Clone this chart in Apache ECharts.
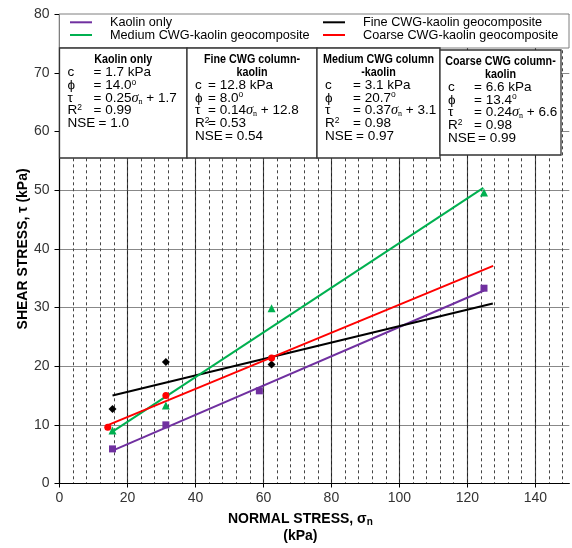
<!DOCTYPE html>
<html><head><meta charset="utf-8">
<script src="https://cdn.jsdelivr.net/npm/echarts@6/dist/echarts.min.js"></script>
<style>html,body{margin:0;padding:0;background:#fff}#c{width:572px;height:548px}</style>
</head><body><div id="c"></div>
<script>
// ---- data ----
const seriesNames = ['Kaolin only', 'Fine CWG-kaolin geocomposite', 'Medium CWG-kaolin geocomposite', 'Coarse CWG-kaolin geocomposite'];
const colors = ['#7030A0', '#000000', '#00B050', '#FF0000'];
const symbols = ['rect', 'diamond', 'triangle', 'circle'];

const kaolinX = [15.6, 31.3, 58.8, 124.9];
const kaolinY = [5.9, 10.0, 15.8, 33.3];
const fineX = [15.6, 31.3, 62.4];
const fineY = [12.7, 20.7, 20.3];
const mediumX = [15.6, 31.3, 62.4, 124.9];
const mediumY = [9.05, 13.3, 29.9, 49.6];
const coarseX = [14.2, 31.3, 62.4];
const coarseY = [9.6, 15.0, 21.4];

// fitted trend lines (start / end)
const kaolinLineX = [15.6, 124.9], kaolinLineY = [5.6, 32.9];
const fineLineX = [15.6, 127.5], fineLineY = [15.0, 30.7];
const mediumLineX = [15.5, 124.7], mediumLineY = [8.8, 50.4];
const coarseLineX = [14.4, 127.6], coarseLineY = [10.0, 37.1];

// fit summary boxes
const boxTitles = [['Kaolin only'], ['Fine CWG column-', 'kaolin'], ['Medium CWG column', '-kaolin'], ['Coarse CWG column-', 'kaolin']];
const cValues = ['1.7', '12.8', '3.1', '6.6'];
const phiValues = ['14.0', '8.0', '20.7', '13.4'];
const slopes = ['0.25', '0.14', '0.37', '0.24'];
const intercepts = ['1.7', '12.8', '3.1', '6.6'];
const r2Values = ['0.99', '0.53', '0.98', '0.98'];
const nseValues = ['1.0', '0.54', '0.97', '0.99'];

const xTicks = [0, 20, 40, 60, 80, 100, 120, 140];
const yTicks = [0, 10, 20, 30, 40, 50, 60, 70, 80];

// ---- layout ----
const FONT = '"Liberation Sans", Arial, sans-serif';
const grid = {left: 59.5, right: 2.7, top: 14.3, bottom: 62.3};
const boxX = [59.5, 187, 317, 440];
const boxW = [127.5, 130, 123, 121];
const boxTop = [48, 48, 48, 50];
const boxH = [110, 110, 110, 105];
const eqOff = [34, 21, 36, 34];
const nseEqOff = [39, 38, 39, 38];

const pts = (xs, ys) => xs.map((x, i) => [x, ys[i]]);
const scatterData = [pts(kaolinX, kaolinY), pts(fineX, fineY), pts(mediumX, mediumY), pts(coarseX, coarseY)];
const lineData = [pts(kaolinLineX, kaolinLineY), pts(fineLineX, fineLineY), pts(mediumLineX, mediumLineY), pts(coarseLineX, coarseLineY)];

const series = [];
lineData.forEach((d, i) => {
  series.push({name: seriesNames[i], type: 'line', data: d, symbol: 'none', silent: true,
    lineStyle: {color: colors[i], width: 2}, itemStyle: {color: colors[i]}, z: 3, animation: false});
});
scatterData.forEach((d, i) => {
  series.push({name: seriesNames[i] + ' data', type: 'scatter', data: d, symbol: symbols[i],
    symbolSize: symbols[i] === 'triangle' ? 8 : (symbols[i] === 'diamond' ? 8 : 7),
    itemStyle: {color: colors[i], opacity: 1}, z: 4, animation: false});
});

const FS = 13.5;
const rich = {
  t: {fontFamily: FONT, fontSize: FS, lineHeight: 15, color: '#000'},
  s: {fontFamily: '"Liberation Serif", serif', fontStyle: 'italic', fontSize: 14.5, lineHeight: 15, color: '#000'},
  sub: {fontFamily: '"Liberation Serif", serif', fontSize: 8, lineHeight: 8, verticalAlign: 'bottom', color: '#000'},
  sup: {fontFamily: FONT, fontSize: 8.5, lineHeight: 9, verticalAlign: 'top', color: '#000'}
};

const graphics = [];
// legend box
graphics.push({type: 'rect', shape: {x: 59.5, y: 14, width: 509.5, height: 34}, style: {fill: '#fff', stroke: '#7f7f7f', lineWidth: 1}, z: 10});
// legend items
const legPos = [[70, 22.3], [323, 22.3], [70, 35], [323, 35]];
const legOrder = [0, 1, 2, 3];
legOrder.forEach((si, k) => {
  const [lx, ly] = legPos[k];
  graphics.push({type: 'line', shape: {x1: lx, y1: ly, x2: lx + 22, y2: ly}, style: {stroke: colors[si], lineWidth: 2}, z: 11});
  graphics.push({type: 'text', x: lx + 40, y: ly, style: {text: seriesNames[si], font: '12.7px ' + FONT, fill: '#000', verticalAlign: 'middle'}, z: 11});
});

// fit boxes
for (let b = 0; b < 4; b++) {
  const x0 = boxX[b], y0 = boxTop[b];
  graphics.push({type: 'rect', shape: {x: x0, y: y0, width: boxW[b], height: boxH[b]}, style: {fill: '#fff', stroke: '#333', lineWidth: 1.3}, z: 10});
  let y = y0 + 12;
  const step = 12.65;
  boxTitles[b].forEach(t => {
    graphics.push({type: 'text', x: x0 + boxW[b] / 2, y: y, scaleX: 0.86, style: {text: t, font: 'bold 12.5px ' + FONT, fill: '#000', align: 'center', verticalAlign: 'middle'}, z: 11});
    y += step;
  });
  const rows = [
    ['{t|c}', '{t|= ' + cValues[b] + ' kPa}', eqOff[b]],
    ['{t|ϕ}', '{t|= ' + phiValues[b] + '}{sup|o}', eqOff[b]],
    ['{t|τ}', '{t|= ' + slopes[b] + '}{s|σ}{sub|n}{t| + ' + intercepts[b] + '}', eqOff[b]],
    ['{t|R}{sup|2}', '{t|= ' + r2Values[b] + '}', eqOff[b]],
    ['{t|NSE}', '{t|= ' + nseValues[b] + '}', nseEqOff[b]]
  ];
  rows.forEach(r => {
    graphics.push({type: 'text', x: x0 + 8, y: y, style: {text: r[0], rich: rich, verticalAlign: 'middle', fill: '#000'}, z: 11});
    graphics.push({type: 'text', x: x0 + r[2], y: y, style: {text: r[1], rich: rich, verticalAlign: 'middle', fill: '#000'}, z: 11});
    y += step;
  });
}

const chart = echarts.init(document.getElementById('c'), null, {renderer: 'canvas'});
chart.setOption({
  animation: false,
  backgroundColor: '#fff',
  grid: grid,
  xAxis: [{
    type: 'value', min: 0, max: 150, interval: 20,
    axisLine: {show: true, onZero: false, lineStyle: {color: '#000', width: 1.2}},
    axisTick: {show: true, length: 4, lineStyle: {color: '#000'}},
    axisLabel: {fontFamily: FONT, fontSize: 14, color: '#333', margin: 8, showMaxLabel: false,
      formatter: v => xTicks.indexOf(v) >= 0 ? String(v) : ''},
    splitLine: {show: true, showMaxLine: false, lineStyle: {color: '#222', width: 1.1}},
    name: '{n|NORMAL STRESS, }{g|σ}{sub|n}\n{n|(kPa)}',
    nameLocation: 'middle', nameGap: 27,
    nameTextStyle: {padding: [0, 28, 0, 0], rich: {
      n: {fontFamily: FONT, fontSize: 14, fontWeight: 'bold', color: '#000', lineHeight: 17},
      g: {fontFamily: FONT, fontSize: 14, fontWeight: 'bold', color: '#000', lineHeight: 17},
      sub: {fontFamily: FONT, fontSize: 10, fontWeight: 'bold', color: '#000', lineHeight: 10, verticalAlign: 'bottom'}
    }}
  }, {
    type: 'value', min: 0, max: 150, interval: 4, show: true,
    axisLine: {show: false}, axisTick: {show: false}, axisLabel: {show: false},
    splitLine: {show: true, showMaxLine: false, showMinLine: false, lineStyle: {color: '#444', width: 1, type: [3, 3]}}
  }],
  yAxis: {
    type: 'value', min: 0, max: 80, interval: 10,
    axisLine: {show: true, lineStyle: {color: '#000', width: 1.2}},
    axisTick: {show: true, length: 5, lineStyle: {color: '#000'}},
    axisLabel: {fontFamily: FONT, fontSize: 14, color: '#333', margin: 10,
      formatter: v => yTicks.indexOf(v) >= 0 ? String(v) : ''},
    splitLine: {show: true, lineStyle: {color: '#888', width: 1}},
    name: 'SHEAR STRESS, τ (kPa)', nameLocation: 'middle', nameGap: 29, nameMoveOverlap: false,
    nameTextStyle: {fontFamily: FONT, fontSize: 14, fontWeight: 'bold', color: '#000'}
  },
  series: series,
  graphic: graphics
});
</script></body></html>
